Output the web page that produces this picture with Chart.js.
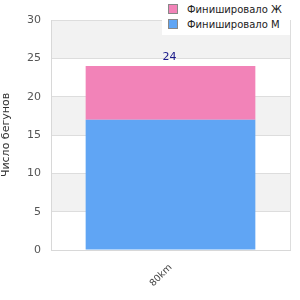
<!DOCTYPE html>
<html><head><meta charset="utf-8">
<script src="https://cdn.jsdelivr.net/npm/chart.js@4/dist/chart.umd.min.js"></script>
<style>
html,body{margin:0;padding:0;background:#fff;}
#wrap{position:relative;width:300px;height:300px;}
#legend{position:absolute;left:162px;top:0;width:128px;height:35px;background:#fff;font-family:"DejaVu Sans",sans-serif;font-size:10px;color:#222;}
.item{position:absolute;left:6px;height:12px;line-height:12px;white-space:nowrap;}
.sw{display:inline-block;width:8px;height:8px;border:1px solid #888;vertical-align:middle;margin-right:9px;position:relative;top:-1px;}
</style></head>
<body><div id="wrap"><canvas id="c" width="300" height="300"></canvas>
<div id="legend"></div></div>
<script>
const categories = ["80km"];
const finishedM = [17];
const finishedF = [7];
const seriesNames = ["Финишировало М", "Финишировало Ж"];
const yTicks = [0, 5, 10, 15, 20, 25, 30];
const yTitle = "Число бегунов";
const colors = {M: "#60a5f4", F: "#f283b8"};

// legend
const lg = document.getElementById('legend');
[[seriesNames[1], colors.F, 4], [seriesNames[0], colors.M, 19]].forEach(([t, c, top]) => {
  const d = document.createElement('div'); d.className = 'item'; d.style.top = top + 'px';
  d.innerHTML = '<span class="sw" style="background:' + c + '"></span>' + t;
  lg.appendChild(d);
});

const bands = {
  id: 'bands',
  beforeDraw(chart) {
    const {ctx, chartArea: a, scales: {y}} = chart;
    ctx.save();
    ctx.fillStyle = '#f2f2f2';
    for (let i = 0; i < yTicks.length - 1; i++) {
      if (i % 2 === 1) {
        const t = y.getPixelForValue(yTicks[i + 1]), b = y.getPixelForValue(yTicks[i]);
        ctx.fillRect(a.left, t, a.right - a.left, b - t);
      }
    }
    ctx.restore();
  },
  afterDatasetsDraw(chart) {
    const {ctx, scales: {x, y}} = chart;
    ctx.save();
    ctx.fillStyle = '#1a1a8a';
    ctx.font = '11px "DejaVu Sans", sans-serif';
    ctx.textAlign = 'center'; ctx.textBaseline = 'bottom';
    categories.forEach((c, i) => {
      const tot = finishedM[i] + finishedF[i];
      ctx.fillText(String(tot), x.getPixelForValue(i) - 1, y.getPixelForValue(tot) - 3);
    });
    ctx.restore();
  }
};

new Chart(document.getElementById('c'), {
  type: 'bar',
  data: {
    labels: categories,
    datasets: [
      {label: seriesNames[0], data: finishedM, backgroundColor: colors.M, borderWidth: 0},
      {label: seriesNames[1], data: finishedF, backgroundColor: colors.F, borderWidth: 0}
    ]
  },
  options: {
    responsive: false, animation: false,
    layout: {padding: {top: 20, right: 10, left: 0, bottom: 0}},
    plugins: {legend: {display: false}, tooltip: {enabled: false}},
    datasets: {bar: {categoryPercentage: 0.71, barPercentage: 1}},
    scales: {
      x: {
        stacked: true,
        grid: {display: false},
        border: {display: true, color: '#d8d8d8'},
        ticks: {color: '#444', font: {family: 'DejaVu Sans', size: 9.5}, maxRotation: 45, minRotation: 45, padding: 4},
        afterFit(s) { s.height = 50; }
      },
      y: {
        stacked: true, min: 0, max: 30,
        afterBuildTicks(s) { s.ticks = yTicks.map(v => ({value: v})); },
        grid: {color: '#dddddd', drawTicks: false},
        border: {display: true, color: '#d8d8d8'},
        ticks: {color: '#555', font: {family: 'DejaVu Sans', size: 11}, padding: 10},
        title: {display: true, text: yTitle, color: '#333', font: {family: 'DejaVu Sans', size: 11}, padding: 0},
        afterFit(s) { s.width = 51; }
      }
    }
  },
  plugins: [bands, {
    id: 'rborder',
    afterDraw(chart) {
      const {ctx, chartArea: a} = chart;
      ctx.save(); ctx.strokeStyle = '#dddddd'; ctx.lineWidth = 1;
      ctx.beginPath(); ctx.moveTo(a.right + 0.5, a.top); ctx.lineTo(a.right + 0.5, a.bottom); ctx.stroke();
      ctx.restore();
    }
  }]
});
</script></body></html>
